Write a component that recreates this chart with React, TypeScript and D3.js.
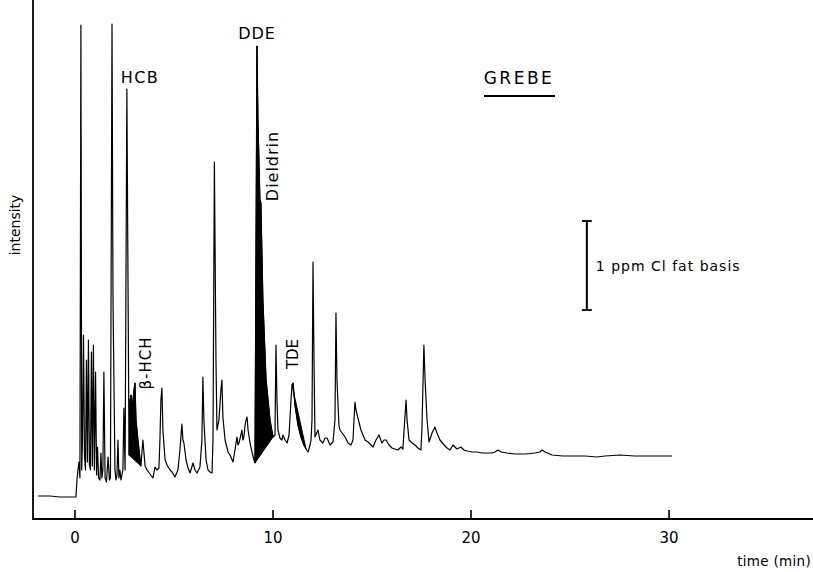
import React from 'react';
import * as d3 from 'd3';

// chromatogram trace: retention time (min) / detector response (arb.)
const times = [
  -1.87, -1.26, -0.76, -0.15, 0.05, 0.10, 0.15, 0.20, 0.25, 0.30, 0.34, 0.38, 0.43, 0.48, 0.53, 0.58,
  0.63, 0.68, 0.73, 0.78, 0.83, 0.88, 0.93, 0.98, 1.04, 1.09, 1.14, 1.19, 1.26, 1.31, 1.36, 1.41,
  1.46, 1.52, 1.59, 1.67, 1.74, 1.79, 1.87, 1.92, 2.02, 2.07, 2.12, 2.17, 2.22, 2.27, 2.32, 2.42,
  2.47, 2.53, 2.62, 2.73, 2.78, 2.83, 2.88, 2.98, 3.03, 3.08, 3.18, 3.28, 3.33, 3.43, 3.54, 3.64,
  3.79, 3.94, 4.04, 4.14, 4.24, 4.29, 4.34, 4.39, 4.44, 4.55, 4.65, 4.80, 4.90, 5.05, 5.20, 5.30,
  5.40, 5.45, 5.50, 5.61, 5.71, 5.81, 5.96, 6.06, 6.16, 6.31, 6.41, 6.46, 6.51, 6.62, 6.72, 6.82,
  6.92, 6.97, 7.04, 7.12, 7.17, 7.27, 7.37, 7.42, 7.47, 7.58, 7.73, 7.83, 7.98, 8.08, 8.18, 8.23,
  8.28, 8.38, 8.43, 8.48, 8.53, 8.59, 8.64, 8.69, 8.74, 8.84, 8.94, 9.04, 9.09, 9.19, 9.24, 9.34,
  9.39, 9.49, 9.65, 9.85, 10.00, 10.10, 10.15, 10.20, 10.25, 10.35, 10.45, 10.50, 10.61, 10.71, 10.81, 10.91,
  10.96, 11.01, 11.11, 11.26, 11.41, 11.56, 11.67, 11.77, 11.87, 11.92, 11.97, 12.02, 12.07, 12.12, 12.27, 12.37,
  12.52, 12.63, 12.73, 12.88, 13.03, 13.13, 13.18, 13.23, 13.33, 13.38, 13.53, 13.64, 13.79, 13.94, 14.04, 14.09,
  14.14, 14.19, 14.29, 14.44, 14.65, 14.80, 14.95, 15.05, 15.20, 15.35, 15.50, 15.61, 15.71, 15.86, 16.01, 16.16,
  16.31, 16.46, 16.56, 16.62, 16.72, 16.77, 16.87, 17.02, 17.17, 17.32, 17.47, 17.52, 17.62, 17.68, 17.78, 17.88,
  18.03, 18.18, 18.28, 18.43, 18.64, 18.79, 18.94, 19.09, 19.29, 19.49, 19.64, 19.80, 20.05, 20.30, 20.56, 20.81,
  21.06, 21.21, 21.36, 21.52, 21.82, 22.22, 22.73, 23.23, 23.48, 23.58, 23.74, 24.09, 24.65, 25.25, 25.76, 26.36,
  26.77, 27.52, 28.28, 28.89, 29.54, 30.15,
];
const response = [
  4.6, 4.6, 4.4, 4.4, 4.4, 7.8, 9.8, 11.4, 8.2, 98.8, 9.8, 15.8, 36.8, 12.8, 9.8, 31.8,
  11.4, 35.8, 10.8, 9.8, 33.4, 10.6, 34.8, 9.8, 29.4, 8.8, 14.4, 8.2, 7.8, 13.2, 8.2, 9.8,
  29.4, 8.2, 7.4, 12.4, 7.8, 8.2, 99.0, 43.8, 9.8, 7.8, 8.8, 15.8, 8.2, 9.8, 7.8, 9.8,
  22.2, 9.8, 86.0, 12.8, 23.8, 24.8, 21.8, 25.8, 27.2, 19.8, 15.8, 12.2, 10.6, 15.8, 10.6, 9.8,
  9.0, 8.2, 10.4, 9.8, 10.2, 15.8, 23.8, 26.2, 17.8, 11.8, 10.8, 9.8, 9.4, 8.4, 9.8, 13.8,
  19.0, 15.8, 15.2, 11.8, 10.2, 9.2, 11.2, 9.8, 9.2, 10.4, 15.8, 28.4, 19.8, 11.8, 9.8, 9.4,
  9.2, 15.8, 71.4, 31.8, 17.8, 19.8, 25.8, 27.8, 20.4, 15.8, 13.4, 12.8, 11.4, 13.8, 16.4, 14.8,
  15.2, 16.8, 17.8, 15.8, 16.4, 18.8, 19.8, 20.4, 17.8, 15.2, 13.4, 11.8, 11.2, 94.6, 79.8, 63.8,
  63.2, 43.8, 27.8, 19.8, 16.4, 16.8, 34.8, 23.8, 17.8, 16.2, 15.8, 16.8, 15.8, 15.2, 16.8, 23.8,
  26.8, 27.2, 22.8, 18.8, 16.4, 14.8, 14.0, 13.4, 14.8, 15.8, 19.8, 51.4, 31.8, 16.4, 17.8, 15.8,
  15.2, 16.2, 16.2, 14.8, 15.4, 19.8, 41.2, 27.8, 18.8, 17.8, 17.0, 16.4, 15.2, 14.8, 15.8, 19.8,
  23.4, 21.8, 20.2, 17.8, 15.8, 15.4, 14.8, 14.4, 15.8, 16.8, 15.2, 15.8, 15.8, 14.8, 14.2, 14.0,
  13.8, 14.4, 14.0, 17.8, 23.8, 19.8, 15.8, 15.2, 14.8, 14.2, 13.8, 17.8, 34.8, 27.8, 19.8, 15.4,
  17.2, 18.4, 17.2, 15.8, 14.8, 14.2, 13.8, 14.8, 14.0, 14.4, 13.8, 13.6, 13.4, 13.4, 13.2, 13.2,
  13.2, 13.4, 13.8, 13.4, 13.2, 13.0, 13.0, 13.2, 13.4, 13.8, 13.4, 12.8, 12.6, 12.6, 12.6, 12.4,
  12.6, 12.8, 12.6, 12.6, 12.6, 12.6,
];

// blackened peaks (retention-time windows)
const filledPeaks = [
  [2.73, 3.33],
  [9.09, 10.0],
  [10.96, 11.67],
];

const xTicks = [0, 10, 20, 30];

// 1 ppm Cl (fat basis) calibration bar, in chart units
const barTime = 25.85;
const barLow = 41.8;
const barHigh = 59.6;

const FONT = "'DejaVu Sans', 'Liberation Sans', sans-serif";

export default function App() {
  const width = 813;
  const height = 572;
  const left = 33;
  const bottom = 519;

  const x = d3.scaleLinear().domain([-2.12, 37.27]).range([left, width]);
  const y = d3.scaleLinear().domain([0, 103.8]).range([bottom, 0]);

  const points: [number, number][] = times.map((t, i) => [t, response[i]]);
  const line = d3
    .line<[number, number]>()
    .x((d) => x(d[0]))
    .y((d) => y(d[1]));

  const fills = filledPeaks.map(([a, b]) => {
    const seg = points.filter((p) => p[0] >= a - 1e-6 && p[0] <= b + 1e-6);
    return (line(seg) || '') + 'Z';
  });

  const bx = x(barTime);

  return (
    <svg
      width={width}
      height={height}
      style={{ position: 'absolute', left: 0, top: 0, background: '#fff' }}
      fontFamily={FONT}
    >
      {/* axes */}
      <line x1={left} y1={0} x2={left} y2={bottom + 1} stroke="#000" strokeWidth={1.8} />
      <line x1={left} y1={bottom} x2={width} y2={bottom} stroke="#000" strokeWidth={2} />
      {xTicks.map((t) => (
        <g key={t}>
          <line x1={x(t)} y1={bottom} x2={x(t)} y2={bottom - 9} stroke="#000" strokeWidth={1.6} />
          <text x={x(t)} y={bottom + 24} textAnchor="middle" fontSize={15}>
            {t}
          </text>
        </g>
      ))}
      <text x={811} y={566} textAnchor="end" fontSize={13.5} letterSpacing={0.3}>
        time (min)
      </text>
      <text
        transform="translate(15,225) rotate(-90)"
        textAnchor="middle"
        dominantBaseline="central"
        fontSize={14}
      >
        intensity
      </text>

      {/* trace */}
      {fills.map((d, i) => (
        <path key={i} d={d} fill="#000" stroke="#000" strokeWidth={1} />
      ))}
      <path d={line(points) || ''} fill="none" stroke="#000" strokeWidth={1.2} strokeLinejoin="round" />

      {/* peak labels */}
      <text x={140} y={83} textAnchor="middle" fontSize={16} letterSpacing={1.5}>
        HCB
      </text>
      <text x={257} y={39} textAnchor="middle" fontSize={16} letterSpacing={1}>
        DDE
      </text>
      <text
        transform="translate(272,166) rotate(-90)"
        textAnchor="middle"
        dominantBaseline="central"
        fontSize={16}
        letterSpacing={1}
      >
        Dieldrin
      </text>
      <text
        transform="translate(146,363) rotate(-90)"
        textAnchor="middle"
        dominantBaseline="central"
        fontSize={15}
        letterSpacing={1}
      >
        β-HCH
      </text>
      <text
        transform="translate(293,354) rotate(-90)"
        textAnchor="middle"
        dominantBaseline="central"
        fontSize={15}
      >
        TDE
      </text>

      {/* title */}
      <text x={519} y={84} textAnchor="middle" fontSize={17} letterSpacing={2.5}>
        GREBE
      </text>
      <line x1={484} y1={96} x2={555} y2={96} stroke="#000" strokeWidth={1.8} />

      {/* calibration bar */}
      <line x1={bx} y1={y(barHigh)} x2={bx} y2={y(barLow)} stroke="#000" strokeWidth={2} />
      <line x1={bx - 5} y1={y(barHigh)} x2={bx + 5} y2={y(barHigh)} stroke="#000" strokeWidth={1.8} />
      <line x1={bx - 5} y1={y(barLow)} x2={bx + 5} y2={y(barLow)} stroke="#000" strokeWidth={1.8} />
      <text x={bx + 9} y={y((barLow + barHigh) / 2) + 5} fontSize={14} letterSpacing={1}>
        1 ppm Cl fat basis
      </text>
    </svg>
  );
}
